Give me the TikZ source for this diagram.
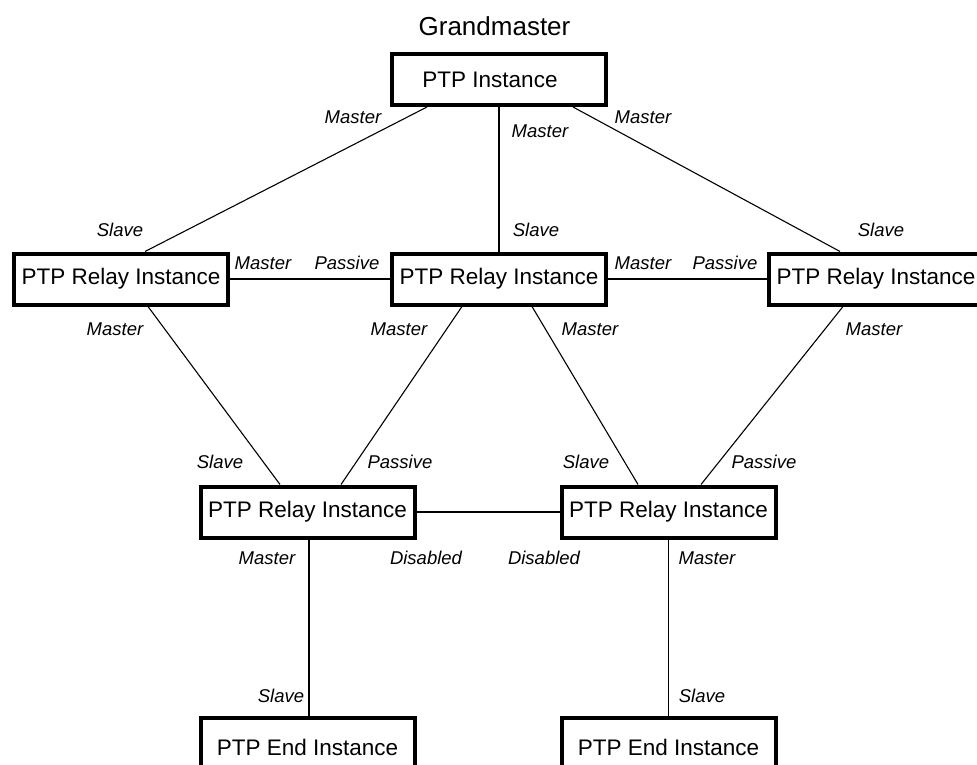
\documentclass[tikz,border=0pt]{standalone}
\usepackage{fontspec}
\setmainfont{Liberation Sans}
\begin{document}
\begin{tikzpicture}[x=1pt,y=-1pt,line width=1.1pt]
	\tikzset{inst/.style={draw,line width=4pt,minimum width=214pt,minimum height=51pt,inner sep=0pt,font=\fontsize{22.5}{26}\selectfont},
		role/.style={inner sep=0pt,font=\fontsize{18.5}{22}\selectfont\itshape}}
	\useasboundingbox (0,0) rectangle (977,765);
	\clip (0,0) rectangle (977,765);
	% instances
	\path (499  , 79.5) node [inst] (gm) {PTP Instance\hspace*{18pt}};
	\path (494.5, 26  ) node [font=\fontsize{26}{30}\selectfont] (gmlabel) {Grandmaster};
	\path (121  , 279 ) node [inst] (rl) {PTP Relay Instance};
	\path (499  , 279 ) node [inst] (rm) {PTP Relay Instance};
	\path (876  , 279 ) node [inst] (rr) {PTP Relay Instance};
	\path (307.5, 512 ) node [inst] (ll) {PTP Relay Instance};
	\path (668.5, 512 ) node [inst] (lr) {PTP Relay Instance};
	\path (307.5, 747 ) node [inst,minimum height=58pt] (el) {PTP End Instance};
	\path (668.5, 747 ) node [inst,minimum height=58pt] (er) {PTP End Instance};
	% links
	\draw ([xshift=-72pt]gm.south) -- ([xshift=24pt]rl.north);
	\draw (gm.south) -- (rm.north);
	\draw ([xshift=74pt]gm.south) -- ([xshift=-36pt]rr.north);
	\draw (rl.east) -- (rm.west);
	\draw (rm.east) -- (rr.west);
	\draw ([xshift=27pt]rl.south) -- ([xshift=-27.5pt]ll.north);
	\draw ([xshift=-37pt]rm.south) -- ([xshift=33.5pt]ll.north);
	\draw ([xshift=33pt]rm.south) -- ([xshift=-30.5pt]lr.north);
	\draw ([xshift=-33pt]rr.south) -- ([xshift=32.5pt]lr.north);
	\draw (ll.east) -- (lr.west);
	\draw ([xshift=1.5pt]ll.south) -- ([xshift=1.5pt]el.north);
	\draw (lr.south) -- (er.north);
	% port roles
	\path (353,117) node [role] (r1) {Master};
	\path (540,131) node [role] (r2) {Master};
	\path (643,117) node [role] (r3) {Master};
	\path (120,230) node [role] (r4) {Slave};
	\path (536,230) node [role] (r5) {Slave};
	\path (881,230) node [role] (r6) {Slave};
	\path (263,263) node [role] (r7) {Master};
	\path (347,263) node [role] (r8) {Passive};
	\path (643,263) node [role] (r9) {Master};
	\path (725,263) node [role] (r10) {Passive};
	\path (115,329) node [role] (r11) {Master};
	\path (399,329) node [role] (r12) {Master};
	\path (590,329) node [role] (r13) {Master};
	\path (874,329) node [role] (r14) {Master};
	\path (220,462) node [role] (r15) {Slave};
	\path (400,462) node [role] (r16) {Passive};
	\path (586,462) node [role] (r17) {Slave};
	\path (764,462) node [role] (r18) {Passive};
	\path (267,558) node [role] (r19) {Master};
	\path (426,558) node [role] (r20) {Disabled};
	\path (544,558) node [role] (r21) {Disabled};
	\path (707,558) node [role] (r22) {Master};
	\path (281,696) node [role] (r23) {Slave};
	\path (702,696) node [role] (r24) {Slave};
\end{tikzpicture}
\end{document}
